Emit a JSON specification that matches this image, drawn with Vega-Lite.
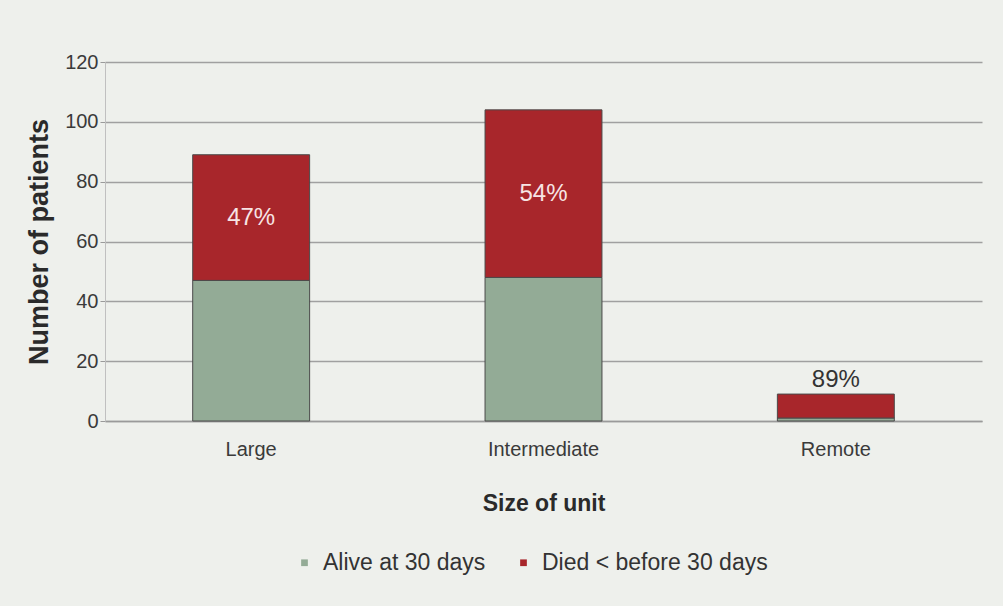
{
  "$schema": "https://vega.github.io/schema/vega-lite/v6.json",
  "autosize": "none",
  "width": 877,
  "height": 359,
  "padding": {"left": 105, "top": 62, "right": 21, "bottom": 185},
  "background": "#eef0ec",
  "data": {
    "values": [
      {"unit": "Large", "status": "Alive at 30 days", "count": 47, "label": ""},
      {"unit": "Large", "status": "Died < before 30 days", "count": 42, "label": "47%"},
      {"unit": "Intermediate", "status": "Alive at 30 days", "count": 48, "label": ""},
      {"unit": "Intermediate", "status": "Died < before 30 days", "count": 56, "label": "54%"},
      {"unit": "Remote", "status": "Alive at 30 days", "count": 1, "label": ""},
      {"unit": "Remote", "status": "Died < before 30 days", "count": 8, "label": "89%"}
    ]
  },
  "config": {
    "font": "Liberation Sans",
    "view": {"stroke": null},
    "axis": {"labelColor": "#3a3a3a", "titleColor": "#2a2a2a", "labelFontSize": 20, "titleFontWeight": "bold"}
  },
  "layer": [
    {
      "mark": {"type": "bar", "stroke": "#4a4a4a", "strokeWidth": 1},
      "encoding": {
        "x": {
          "field": "unit", "type": "nominal", "sort": ["Large", "Intermediate", "Remote"],
          "scale": {"paddingInner": 0.6, "paddingOuter": 0.3},
          "axis": {"labelAngle": 0, "ticks": false, "labelPadding": 18, "title": "Size of unit", "titleFontSize": 23, "titlePadding": 33, "domainColor": "#9a9a9a", "domainWidth": 1.5}
        },
        "y": {
          "field": "count", "type": "quantitative", "stack": "zero",
          "scale": {"domain": [0, 120]},
          "axis": {"values": [0, 20, 40, 60, 80, 100, 120], "title": "Number of patients", "titleFontSize": 27, "titlePadding": 11, "tickSize": 5, "tickColor": "#9a9a9a", "labelPadding": 2, "gridColor": "#a0a0a0", "gridWidth": 1.5, "domainColor": "#c0c0c0"}
        },
        "color": {
          "field": "status", "type": "nominal",
          "scale": {"domain": ["Alive at 30 days", "Died < before 30 days"], "range": ["#93ab96", "#a8262b"]},
          "legend": {"title": null, "orient": "none", "direction": "horizontal", "legendX": 188, "legendY": 489, "symbolType": "square", "symbolSize": 45, "symbolStrokeWidth": 0, "labelFontSize": 23, "labelColor": "#333333", "labelLimit": 0, "columnPadding": 26, "labelOffset": 7}
        },
        "order": {"field": "status", "sort": "ascending"}
      }
    },
    {
      "transform": [
        {"joinaggregate": [{"op": "sum", "field": "count", "as": "total"}], "groupby": ["unit"]},
        {"filter": "datum.label != '' && datum.unit != 'Remote'"},
        {"calculate": "datum.total - datum.count / 2", "as": "mid"}
      ],
      "mark": {"type": "text", "fontSize": 24, "color": "#f7e4e4"},
      "encoding": {
        "x": {"field": "unit", "type": "nominal", "sort": ["Large", "Intermediate", "Remote"]},
        "y": {"field": "mid", "type": "quantitative"},
        "text": {"field": "label"}
      }
    },
    {
      "transform": [
        {"joinaggregate": [{"op": "sum", "field": "count", "as": "total"}], "groupby": ["unit"]},
        {"filter": "datum.label != '' && datum.unit == 'Remote'"}
      ],
      "mark": {"type": "text", "fontSize": 24, "color": "#333333", "baseline": "bottom", "dy": -2},
      "encoding": {
        "x": {"field": "unit", "type": "nominal", "sort": ["Large", "Intermediate", "Remote"]},
        "y": {"field": "total", "type": "quantitative"},
        "text": {"field": "label"}
      }
    }
  ]
}
